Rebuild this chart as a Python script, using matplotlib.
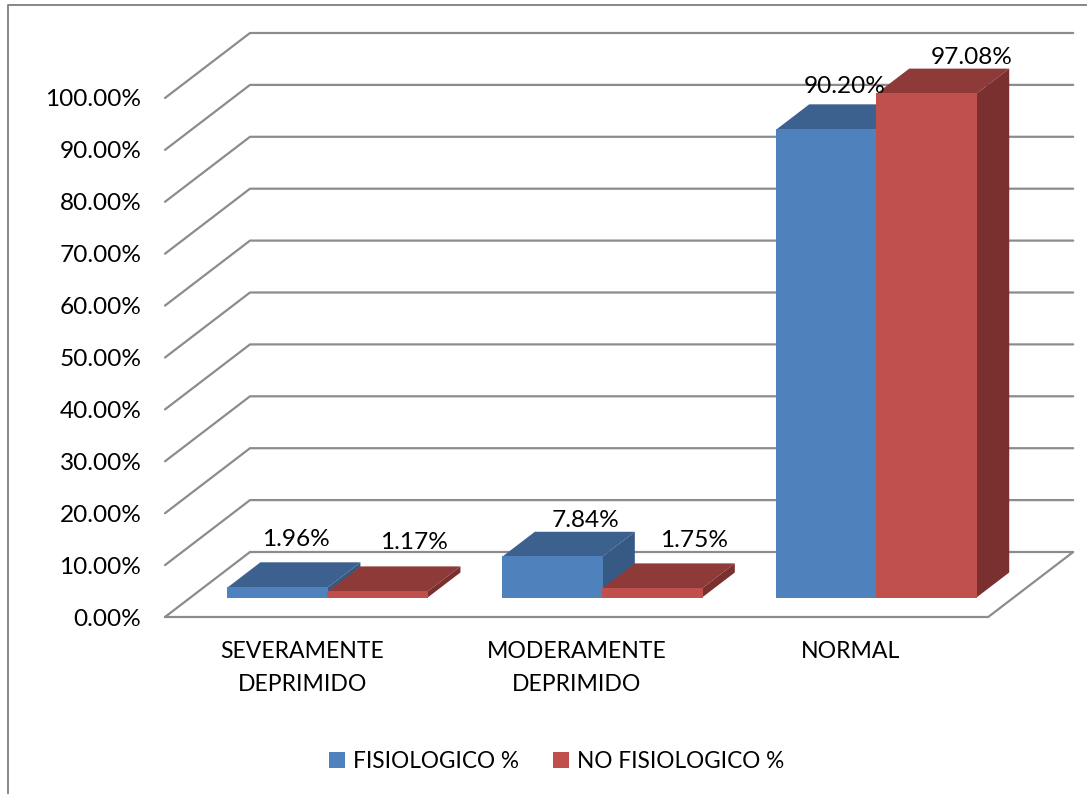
import matplotlib
matplotlib.use("Agg")
import matplotlib.pyplot as plt
from matplotlib.lines import Line2D
from matplotlib.patches import Patch, Polygon

categories = ["SEVERAMENTE\nDEPRIMIDO", "MODERAMENTE\nDEPRIMIDO", "NORMAL"]
fisiologico = [1.96, 7.84, 90.20]
no_fisiologico = [1.17, 1.75, 97.08]
series_names = ["FISIOLOGICO %", "NO FISIOLOGICO %"]
y_ticks = [0, 10, 20, 30, 40, 50, 60, 70, 80, 90, 100]

plt.rcParams["font.family"] = ["Lato", "DejaVu Sans"]
W, H = 1089, 794
FS = 16.6
FS_LEG = 16.3
FS_NUM = 17.6
GRID = "#8C8C8C"
FRONT = ["#4F81BD", "#C0504D"]
TOP = ["#3C618F", "#8E3A38"]
SIDE = ["#375A85", "#7A302E"]

fig = plt.figure(figsize=(W / 100, H / 100), dpi=100, facecolor="white")
# plot box in pixels: x 165..1074, y 617..33
ax = fig.add_axes([165 / W, (H - 617) / H, (1074 - 165) / W, (617 - 33) / H])
ax.patch.set_alpha(0)
PX_X, PX_Y = 274.4, 5.19
ax.set_xlim(-0.5, -0.5 + (1074 - 165) / PX_X)
ax.set_ylim(0, (617 - 33) / PX_Y)
for s in ax.spines.values():
    s.set_visible(False)

# oblique depth of the chart box, in data units
DX, DY = 85 / PX_X, 65 / PX_Y
D_FRONT, D_BACK = 0.30, 0.685
BAR_W = 100 / PX_X


def proj(x, v, d):
    return x + DX * d, v + DY * d


# walls and floor
left, right = -0.5, 2.5
for v in y_ticks:
    pts = [proj(left, v, 0), proj(left, v, 1), proj(right, v, 1)]
    if v == 0:
        pts += [proj(right, v, 0), proj(left, v, 0)]
    ax.plot(*zip(*pts), color=GRID, lw=1.6, solid_capstyle="round", clip_on=False, zorder=1)

# bars
base = DY * D_FRONT
offs = DX * D_FRONT
depth = D_BACK - D_FRONT
z = 2
for j, vals in enumerate([fisiologico, no_fisiologico]):
    for i, v in enumerate(vals):
        x0 = i + offs - BAR_W + j * BAR_W
        x1 = x0 + BAR_W
        ax.bar(x0, v, BAR_W, bottom=base, align="edge", color=FRONT[j], lw=0,
               antialiased=False, snap=False, zorder=z + 1)
        top = [(x0, base + v), (x1, base + v),
               proj(x1, base + v, depth), proj(x0, base + v, depth)]
        side = [(x1, base), (x1, base + v),
                proj(x1, base + v, depth), proj(x1, base, depth)]
        ax.add_patch(Polygon(top, closed=True, fc=TOP[j], ec="none", zorder=z))
        ax.add_patch(Polygon(side, closed=True, fc=SIDE[j], ec="none", zorder=z))
    z += 2

# data labels: pixel offsets from the top-front centre of each bar
label_offsets = [[(18, 50), (36, 51)], [(33, 38), (42, 50)], [(18, 45), (45, 38)]]
for j, vals in enumerate([fisiologico, no_fisiologico]):
    for i, v in enumerate(vals):
        xc = i + offs - BAR_W / 2 + j * BAR_W
        ax.annotate(f"{v:.2f}%", (xc, base + v), xytext=label_offsets[i][j],
                    textcoords="offset pixels", ha="center", va="center_baseline",
                    fontsize=FS_NUM, color="black", zorder=20, annotation_clip=False)

# axes ticks
ax.set_yticks(y_ticks, [f"{v:.2f}%" for v in y_ticks], fontsize=FS_NUM)
ax.set_xticks(range(len(categories)), categories, fontsize=FS, linespacing=1.75)
ax.tick_params(axis="both", length=0, colors="black")
ax.tick_params(axis="y", pad=17)
ax.tick_params(axis="x", pad=17)
for lab in ax.get_yticklabels():
    lab.set_verticalalignment("center_baseline")

# outer chart frame
fig.add_artist(Line2D([7.5 / W, 7.5 / W, 1 - 3 / W, ], [0, 1 - 4.5 / H, 1 - 4.5 / H], color="#868686", lw=1.4))

# legend
handles = [Patch(fc=FRONT[0], ec="none"), Patch(fc=FRONT[1], ec="none")]
fig.legend(handles, series_names, ncol=2, loc="center", bbox_to_anchor=(556.5 / W, (H - 761) / H),
           frameon=False, fontsize=FS_LEG, handlelength=0.72, handleheight=0.72,
           handletextpad=0.35, columnspacing=1.48, borderpad=0)

fig.savefig("out.png", dpi=100, facecolor="white")
